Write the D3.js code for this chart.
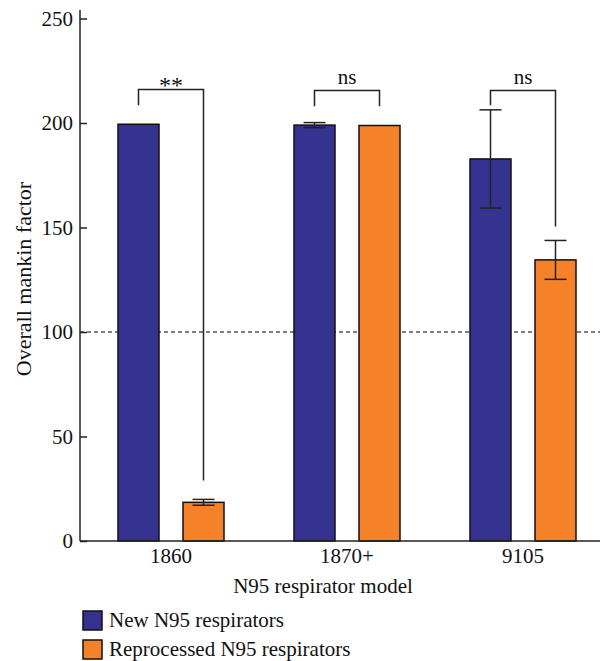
<!DOCTYPE html>
<html lang="en">
<head>
    <meta charset="UTF-8">
    <title>N95 manikin factor</title>
    <style>
        body {
            margin: 0;
            background: white;
        }

        text {
            font-family: "Liberation Serif", "Times New Roman", serif;
            fill: #111;
        }

        .bar {
            stroke: #111;
            stroke-width: 1.5px;
        }

        .err, .bracket {
            stroke: #222;
            stroke-width: 1.5px;
            fill: none;
        }

        .axis-line {
            stroke: #222;
            stroke-width: 1.5px;
        }

        .ref-line {
            stroke: #000;
            stroke-width: 1px;
            stroke-dasharray: 4 3;
        }
    </style>
    <script src="https://d3js.org/d3.v7.min.js"></script>
</head>
<body>
    <div id="chart"></div>

    <script>
        const models = ['1860', '1870+', '9105'];
        const seriesNames = ['New N95 respirators', 'Reprocessed N95 respirators'];
        const colors = ['#35338f', '#f58229'];

        // means and error (SD) per model, per series
        const newMeans = [199.4, 199.0, 182.8];
        const newErr = [0, 1.2, 23.5];
        const reproMeans = [18.5, 198.8, 134.5];
        const reproErr = [1.4, 0, 9.3];

        // significance brackets: top, left leg end, right leg end (data units)
        const sigLabels = ['**', 'ns', 'ns'];
        const bracketTop = [216, 215.5, 215.5];
        const bracketLeft = [208.5, 208, 208.5];
        const bracketRight = [29, 208, 150.5];

        const yTicks = [0, 50, 100, 150, 200, 250];
        const refValue = 100;

        const width = 600;
        const height = 661;
        const margin = { left: 80, top: 10, bottom: 541 };
        const fs = 21;

        const svg = d3.select('#chart')
            .append('svg')
            .attr('width', width)
            .attr('height', height);

        const y = d3.scaleLinear()
            .domain([0, 250])
            .range([541, 18.5]);

        const x0 = d3.scaleBand()
            .domain(models)
            .range([83, 611]);

        const x1 = d3.scaleBand()
            .domain([0, 1])
            .range([0, 106])
            .paddingInner(24 / 65)
            .paddingOuter(0);

        const offset = (x0.bandwidth() - 106) / 2;
        const barX = (i, s) => x0(models[i]) + offset + x1(s);
        const barCenter = (i, s) => barX(i, s) + x1.bandwidth() / 2;

        const rows = models.map((m, i) => [
            { i, s: 0, v: newMeans[i], e: newErr[i] },
            { i, s: 1, v: reproMeans[i], e: reproErr[i] }
        ]).flat();

        // reference line
        svg.append('line')
            .attr('class', 'ref-line')
            .attr('x1', margin.left)
            .attr('x2', width)
            .attr('y1', y(refValue))
            .attr('y2', y(refValue));

        // bars
        svg.append('g')
            .selectAll('rect')
            .data(rows)
            .join('rect')
            .attr('class', 'bar')
            .attr('x', d => barX(d.i, d.s))
            .attr('width', x1.bandwidth())
            .attr('y', d => y(d.v))
            .attr('height', d => y(0) - y(d.v))
            .attr('fill', d => colors[d.s]);

        // error bars
        const errG = svg.append('g')
            .selectAll('g')
            .data(rows.filter(d => d.e > 0))
            .join('g');

        errG.append('line')
            .attr('class', 'err')
            .attr('x1', d => barCenter(d.i, d.s))
            .attr('x2', d => barCenter(d.i, d.s))
            .attr('y1', d => y(d.v + d.e))
            .attr('y2', d => y(d.v - d.e));

        errG.selectAll('.cap')
            .data(d => [d.v + d.e, d.v - d.e].map(v => ({ c: barCenter(d.i, d.s), v })))
            .join('line')
            .attr('class', 'err')
            .attr('x1', d => d.c - 11)
            .attr('x2', d => d.c + 11)
            .attr('y1', d => y(d.v))
            .attr('y2', d => y(d.v));

        // significance brackets
        const br = svg.append('g')
            .selectAll('g')
            .data(models.map((m, i) => i))
            .join('g');

        br.append('path')
            .attr('class', 'bracket')
            .attr('d', i => {
                const xl = barCenter(i, 0);
                const xr = barCenter(i, 1);
                return `M${xl},${y(bracketLeft[i])}V${y(bracketTop[i])}H${xr}V${y(bracketRight[i])}`;
            });

        br.append('text')
            .attr('x', i => (barCenter(i, 0) + barCenter(i, 1)) / 2)
            .attr('y', i => sigLabels[i] === '**' ? y(bracketTop[i]) + 3 : y(bracketTop[i]) - 7)
            .attr('text-anchor', 'middle')
            .attr('font-size', i => sigLabels[i] === '**' ? 24 : fs)
            .text(i => sigLabels[i]);

        // axes
        const yAxis = svg.append('g')
            .attr('transform', `translate(${margin.left},0)`)
            .call(d3.axisRight(y).tickValues(yTicks).tickSize(7).tickFormat(''));
        yAxis.select('.domain').remove();
        yAxis.selectAll('line').attr('stroke', '#222').attr('stroke-width', 1.5);

        svg.append('g')
            .selectAll('text')
            .data(yTicks)
            .join('text')
            .attr('x', margin.left - 7)
            .attr('y', d => y(d))
            .attr('dy', '0.35em')
            .attr('text-anchor', 'end')
            .attr('font-size', fs)
            .text(d => d);

        svg.append('line')
            .attr('class', 'axis-line')
            .attr('x1', margin.left)
            .attr('x2', margin.left)
            .attr('y1', margin.top)
            .attr('y2', y(0));

        svg.append('line')
            .attr('class', 'axis-line')
            .attr('x1', margin.left)
            .attr('x2', width)
            .attr('y1', y(0))
            .attr('y2', y(0));

        svg.append('g')
            .selectAll('text')
            .data(models)
            .join('text')
            .attr('x', d => x0(d) + x0.bandwidth() / 2)
            .attr('y', 563)
            .attr('text-anchor', 'middle')
            .attr('font-size', fs)
            .text(d => d);

        svg.append('text')
            .attr('x', 323)
            .attr('y', 593)
            .attr('text-anchor', 'middle')
            .attr('font-size', fs)
            .text('N95 respirator model');

        svg.append('text')
            .attr('transform', 'translate(31,279) rotate(-90)')
            .attr('text-anchor', 'middle')
            .attr('font-size', 22)
            .text('Overall mankin factor');

        // legend
        const legend = svg.append('g')
            .selectAll('g')
            .data(seriesNames)
            .join('g')
            .attr('transform', (d, i) => `translate(83,${611 + i * 29})`);

        legend.append('rect')
            .attr('width', 19)
            .attr('height', 19)
            .attr('fill', (d, i) => colors[i])
            .attr('stroke', '#111')
            .attr('stroke-width', 1.5);

        legend.append('text')
            .attr('x', 26)
            .attr('y', 16)
            .attr('font-size', fs)
            .text(d => d);
    </script>
</body>
</html>
